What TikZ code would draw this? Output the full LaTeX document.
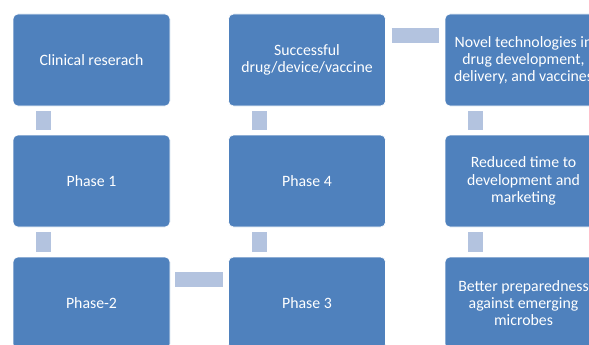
\documentclass[tikz,border=0pt]{standalone}
\usepackage{fontspec}
\setmainfont{Carlito}
\definecolor{boxBlue}{HTML}{4F81BD}
\definecolor{barBlue}{HTML}{B3C3DF}
\tikzset{
    phaseBox/.style={rectangle, rounded corners=5pt, draw=white, line width=0.6pt, fill=boxBlue,
        text=white, minimum width=157pt, minimum height=92pt, inner sep=0pt, outer sep=0pt,
        align=center, font=\fontsize{15.8}{17.2}\selectfont},
    linkBar/.style={draw=barBlue, line width=15pt, line cap=butt},
}
\begin{document}
\begin{tikzpicture}[x=1pt, y=1pt]
            \useasboundingbox (0,0) rectangle (589,-345);
            \clip (0,0) rectangle (589,-345);
            % first column
            \node[phaseBox] (clinicalResearch) at (91.5,-60) {Clinical reserach};
            \node[phaseBox] (phaseOne) at (91.5,-181) {Phase 1};
            \node[phaseBox] (phaseTwo) at (91.5,-303) {Phase-2};
            % second column
            \node[phaseBox] (successfulDrug) at (307,-60) {Successful\\drug/device/vaccine};
            \node[phaseBox] (phaseFour) at (307,-181) {Phase 4};
            \node[phaseBox] (phaseThree) at (307,-303) {Phase 3};
            % third column
            \node[phaseBox] (novelTech) at (523.5,-60) {Novel technologies in\\drug development,\\delivery, and vaccines};
            \node[phaseBox] (reducedTime) at (523.5,-181) {Reduced time to\\development and\\marketing};
            \node[phaseBox] (betterPrep) at (523.5,-303) {Better preparedness\\against emerging\\microbes};
            % links
            \draw[linkBar, shorten <=5pt, shorten >=5pt] ([xshift=30.5pt]clinicalResearch.south west) -- ([xshift=30.5pt]phaseOne.north west);
            \draw[linkBar, shorten <=5pt, shorten >=5pt] ([xshift=30.5pt]phaseOne.south west) -- ([xshift=30.5pt]phaseTwo.north west);
            \draw[linkBar, shorten <=5pt, shorten >=6pt] ([yshift=-22.5pt]phaseTwo.north east) -- ([yshift=-22.5pt]phaseThree.north west);
            \draw[linkBar, shorten <=5pt, shorten >=5pt] ([xshift=30.5pt]phaseThree.north west) -- ([xshift=30.5pt]phaseFour.south west);
            \draw[linkBar, shorten <=5pt, shorten >=5pt] ([xshift=30.5pt]phaseFour.north west) -- ([xshift=30.5pt]successfulDrug.south west);
            \draw[linkBar, shorten <=6pt, shorten >=6pt] ([yshift=-21.5pt]successfulDrug.north east) -- ([yshift=-21.5pt]novelTech.north west);
            \draw[linkBar, shorten <=5pt, shorten >=5pt] ([xshift=30.5pt]novelTech.south west) -- ([xshift=30.5pt]reducedTime.north west);
            \draw[linkBar, shorten <=5pt, shorten >=5pt] ([xshift=30.5pt]reducedTime.south west) -- ([xshift=30.5pt]betterPrep.north west);
        \end{tikzpicture}
\end{document}
